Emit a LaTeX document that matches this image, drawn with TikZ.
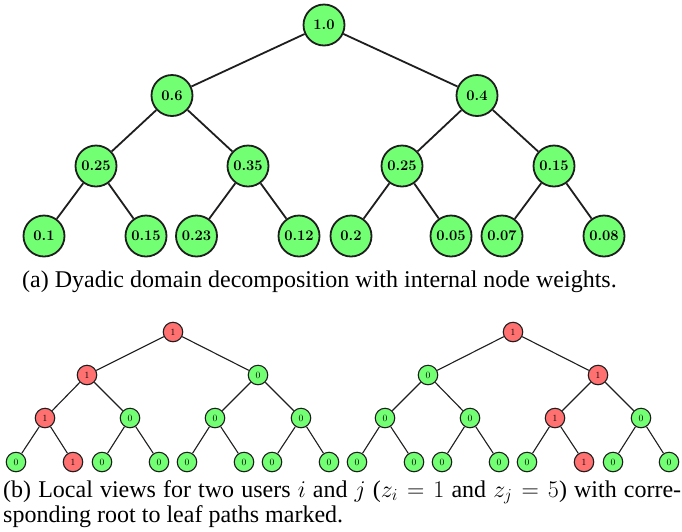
\RequirePackage{fix-cm}
\documentclass[tikz,border=0pt]{standalone}
\usepackage[no-math]{fontspec}
\newfontfamily\capfont{Liberation Serif}
\definecolor{ng}{RGB}{115,255,115}
\definecolor{nr}{RGB}{255,112,112}
\definecolor{ln}{RGB}{30,30,30}
\tikzset{
  big/.style={circle, draw=ln, line width=1.8pt, fill=ng, minimum size=41pt, inner sep=0pt,
    font=\fontsize{14.7}{16}\selectfont\bfseries},
  small/.style={circle, draw=ln, line width=1.1pt, fill=ng, minimum size=19.5pt, inner sep=0pt,
    font=\fontsize{9.5}{10}\selectfont},
  hot/.style={fill=nr},
  bigedge/.style={line width=1.8pt, draw=ln},
  smalledge/.style={line width=1.1pt, draw=ln},
  captext/.style={anchor=base west, inner sep=0pt, font=\capfont\fontsize{24}{25}\selectfont}
}
\begin{document}
\begin{tikzpicture}[x=1pt, y=-1pt]
\useasboundingbox (0,0) rectangle (682,531);
% ---------- top tree ----------
\node[big] (t) at (324,25) {1.0};
\node[big] (tL) at (172,95.5) {0.6};
\node[big] (tR) at (477,95.5) {0.4};
\node[big] (tLL) at (96,166) {0.25};
\node[big] (tLR) at (248,166) {0.35};
\node[big] (tRL) at (402,166) {0.25};
\node[big] (tRR) at (554,166) {0.15};
\node[big] (tLLL) at (44,236) {0.1};
\node[big] (tLLR) at (146,236) {0.15};
\node[big] (tLRL) at (196.5,236) {0.23};
\node[big] (tLRR) at (299,236) {0.12};
\node[big] (tRLL) at (351,236) {0.2};
\node[big] (tRLR) at (451,236) {0.05};
\node[big] (tRRL) at (502,236) {0.07};
\node[big] (tRRR) at (604,236) {0.08};
\foreach \p/\c in {t/tL,t/tR,tL/tLL,tL/tLR,tR/tRL,tR/tRR,tLL/tLLL,tLL/tLLR,tLR/tLRL,tLR/tLRR,tRL/tRLL,tRL/tRLR,tRR/tRRL,tRR/tRRR}
  \draw[bigedge] (\p) -- (\c);
\node[captext] (capa) at (22,287) {(a) Dyadic domain decomposition with internal node weights.};
% ---------- bottom left tree ----------
\node[small,hot] (a) at (173,332) {1};
\node[small,hot] (aL) at (87,375) {1};
\node[small] (aR) at (258,375) {0};
\node[small,hot] (aLL) at (45,418) {1};
\node[small] (aLR) at (130,418) {0};
\node[small] (aRL) at (215,418) {0};
\node[small] (aRR) at (301,418) {0};
\node[small] (aLLL) at (16,462) {0};
\node[small,hot] (aLLR) at (73,462) {1};
\node[small] (aLRL) at (102,462) {0};
\node[small] (aLRR) at (159,462) {0};
\node[small] (aRLL) at (187,462) {0};
\node[small] (aRLR) at (244,462) {0};
\node[small] (aRRL) at (272,462) {0};
\node[small] (aRRR) at (329,462) {0};
% ---------- bottom right tree ----------
\node[small,hot] (b) at (513,332) {1};
\node[small] (bL) at (428,375) {0};
\node[small,hot] (bR) at (598,375) {1};
\node[small] (bLL) at (385,418) {0};
\node[small] (bLR) at (470,418) {0};
\node[small,hot] (bRL) at (555,418) {1};
\node[small] (bRR) at (641,418) {0};
\node[small] (bLLL) at (357,462) {0};
\node[small] (bLLR) at (414,462) {0};
\node[small] (bLRL) at (442,462) {0};
\node[small] (bLRR) at (499,462) {0};
\node[small] (bRLL) at (527,462) {0};
\node[small,hot] (bRLR) at (584,462) {1};
\node[small] (bRRL) at (613,462) {0};
\node[small] (bRRR) at (669,462) {0};
\foreach \r in {a,b}{
  \foreach \p/\c in {/L,/R,L/LL,L/LR,R/RL,R/RR,LL/LLL,LL/LLR,LR/LRL,LR/LRR,RL/RLL,RL/RLR,RR/RRL,RR/RRR}
    \draw[smalledge] (\r\p) -- (\r\c);
}
\node[captext] (capb1) at (3,497) {\makebox[678pt][s]{(b) Local views for two users $i$ and $j$ ($z_i=1$ and $z_j=5$) with corre-}};
\node[captext] (capb2) at (3,522) {sponding root to leaf paths marked.};
\end{tikzpicture}
\end{document}
